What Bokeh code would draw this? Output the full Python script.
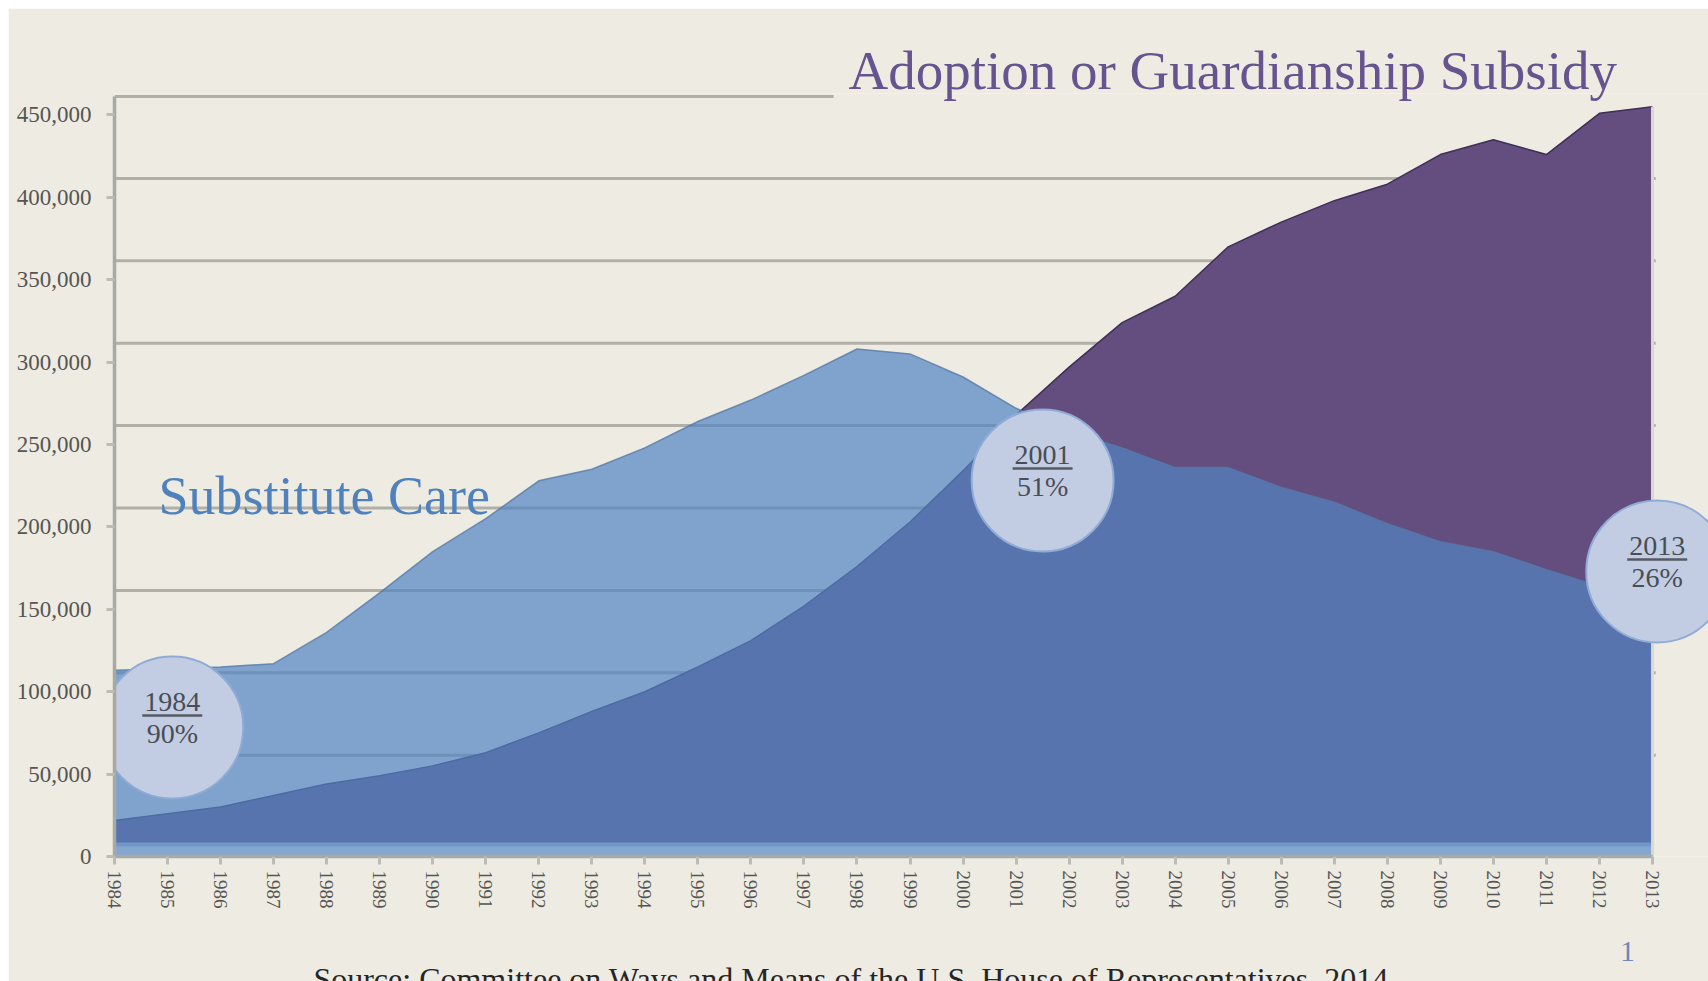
import math
from bokeh.plotting import figure
from bokeh.models import Range1d, FixedTicker, NumeralTickFormatter, Label, LabelSet, ColumnDataSource
from bokeh.embed import file_html
from bokeh.resources import INLINE

# ---------------- data ----------------
years = list(range(1984, 2014))
substitute_care = [113000, 114000, 115000, 117000, 136000, 160000, 185000, 205000, 228000, 235000,
                   248000, 264000, 277000, 292000, 308000, 305000, 291000, 272000, 258000, 248000,
                   236000, 236000, 224000, 215000, 202000, 191000, 185000, 174000, 164000, 157000]
adoption_subsidy = [21800, 26000, 30000, 37000, 44000, 49000, 55000, 63000, 75000, 88000,
                    100000, 115000, 131000, 152000, 176000, 203000, 234000, 268000, 297000, 324000,
                    340000, 370000, 385000, 398000, 408000, 426000, 435000, 426000, 451000, 455000]
other_upper = [8500, 8500, 8500, 8500, 8500, 8500, 8500, 8500, 8500, 8500,
               8500, 8500, 8500, 8500, 8500, 8500, 8500, 8500, 8500, 8500,
               8500, 8500, 8500, 8500, 8500, 8500, 8500, 8500, 8500, 8500]
other_lower = [6100, 6100, 6100, 6100, 6100, 6100, 6100, 6100, 6100, 6100,
               6100, 6100, 6100, 6100, 6100, 6100, 6100, 6100, 6100, 6100,
               6100, 6100, 6100, 6100, 6100, 6100, 6100, 6100, 6100, 6100]
y_ticks = [0, 50000, 100000, 150000, 200000, 250000, 300000, 350000, 400000, 450000]
grid_values = [61500, 111500, 161500, 211500, 261500, 311500, 361500, 411500]

circle_years = ["1984", "2001", "2013"]
circle_pcts = ["90%", "51%", "26%"]
circle_x = [1985.09, 2001.5, 2013.09]
circle_y = [78300, 228200, 173000]

# ---------------- layout constants ----------------
BG = "#eeece2"
W, H = 1700, 973
LEFT, TOP, BOTTOM = 106, 85, 125
PX_PER_YEAR = 53.034
PX_PER_50K = 82.39
frame_w = W - LEFT
frame_h = H - TOP - BOTTOM
x_end = years[0] + frame_w / PX_PER_YEAR
y_end = 50000 * frame_h / PX_PER_50K
px_to_val = 50000 / PX_PER_50K

p = figure(width=W, height=H, x_range=Range1d(years[0], x_end), y_range=Range1d(0, y_end),
           output_backend="svg", toolbar_location=None,
           min_border_left=LEFT, min_border_right=0, min_border_top=TOP, min_border_bottom=BOTTOM,
           background_fill_color=BG, border_fill_color=BG, outline_line_color=None)
p.margin = (8, 0, 0, 8)
p.xgrid.visible = False
p.ygrid.visible = False

SERIF = "Liberation Serif"
GRID = "#b0afa8"

# gridlines (under the areas)
p.segment(x0=[years[0]] * len(grid_values), x1=[years[-1] + 0.06] * len(grid_values),
          y0=grid_values, y1=grid_values, line_color=GRID, line_width=3)
# top frame line (left part; the title sits on the rest)
p.segment(x0=[years[0]], x1=[1997.56], y0=[461200], y1=[461200], line_color=GRID, line_width=3)

# adoption / guardianship subsidy (opaque purple)
p.varea(x=years, y1=0, y2=adoption_subsidy, fill_color="#634e7f")
p.line(years, adoption_subsidy, line_color="#3d2f56", line_width=1.5)

# substitute care (semi-transparent blue, overlap becomes dark blue)
p.varea(x=years, y1=0, y2=substitute_care, fill_color="#5284c2", fill_alpha=0.71)
p.line(years, substitute_care, line_color="#5879a6", line_width=1.5, line_alpha=0.8)

# thin bottom bands
p.varea(x=years, y1=0, y2=other_upper, fill_color="#7197c7")
p.varea(x=years, y1=0, y2=other_lower, fill_color="#84a7d0")

# right edge line
p.segment(x0=[years[-1]], x1=[years[-1]], y0=[0], y1=[adoption_subsidy[-1]],
          line_color="#d9d8d1", line_width=3)

# circles
p.scatter(circle_x, circle_y, size=142, fill_color="#c2cde3", line_color="#90abd6", line_width=2)
p.rect(x=circle_x, y=[v + 12 * px_to_val for v in circle_y], width=60, height=2.5,
       width_units="screen", height_units="screen", fill_color="#555a63", line_color=None)
src = ColumnDataSource(dict(x=circle_x, y=circle_y, yr=circle_years, pct=circle_pcts))
p.add_layout(LabelSet(x="x", y="y", text="yr", source=src, y_offset=16, text_align="center",
                      text_baseline="alphabetic", text_font=SERIF, text_font_size="28px",
                      text_color="#4a4d55"))
p.add_layout(LabelSet(x="x", y="y", text="pct", source=src, y_offset=-16, text_align="center",
                      text_baseline="alphabetic", text_font=SERIF, text_font_size="28px",
                      text_color="#4a4d55"))

# texts (vertically anchored at their middle)
p.add_layout(Label(x=1997.84, y=476800, text="Adoption or Guardianship Subsidy",
                   text_font=SERIF, text_font_size="55px", text_color="#65548f",
                   text_baseline="middle"), "above")
p.add_layout(Label(x=1984.83, y=218600, text="Substitute Care",
                   text_font=SERIF, text_font_size="54px", text_color="#4f81bd",
                   text_baseline="middle"))
p.add_layout(Label(x=2012.53, y=-57600, text="1", text_font=SERIF, text_font_size="30px",
                   text_color="#7088b8", text_align="center", text_baseline="middle"), "below")
p.add_layout(Label(x=1987.75, y=-74300,
                   text="Source: Committee on Ways and Means of the U.S. House of Representatives, 2014",
                   text_font=SERIF, text_font_size="32px", text_color="#262626",
                   text_baseline="middle"), "below")

# axes
p.yaxis.ticker = FixedTicker(ticks=y_ticks)
p.yaxis.formatter = NumeralTickFormatter(format="0,0")
p.yaxis.bounds = (0, 461200)
p.xaxis.ticker = FixedTicker(ticks=years)
p.xaxis.bounds = (years[0], years[-1])
p.xaxis.major_label_orientation = -math.pi / 2
for ax in (p.xaxis, p.yaxis):
    ax.axis_line_color = "#a8a8a4"
    ax.axis_line_width = 3.5
    ax.major_tick_line_color = "#bcbcb6"
    ax.major_tick_line_width = 3
    ax.major_tick_out = 8
    ax.major_tick_in = 0
    ax.minor_tick_line_color = None
    ax.major_label_text_font = SERIF
    ax.major_label_text_color = "#555555"
p.yaxis.major_label_text_font_size = "23px"
p.yaxis.major_label_standoff = 15
p.xaxis.major_label_text_font_size = "19px"
p.xaxis.major_label_standoff = 6

open("out.html", "w").write(file_html(p, INLINE))
